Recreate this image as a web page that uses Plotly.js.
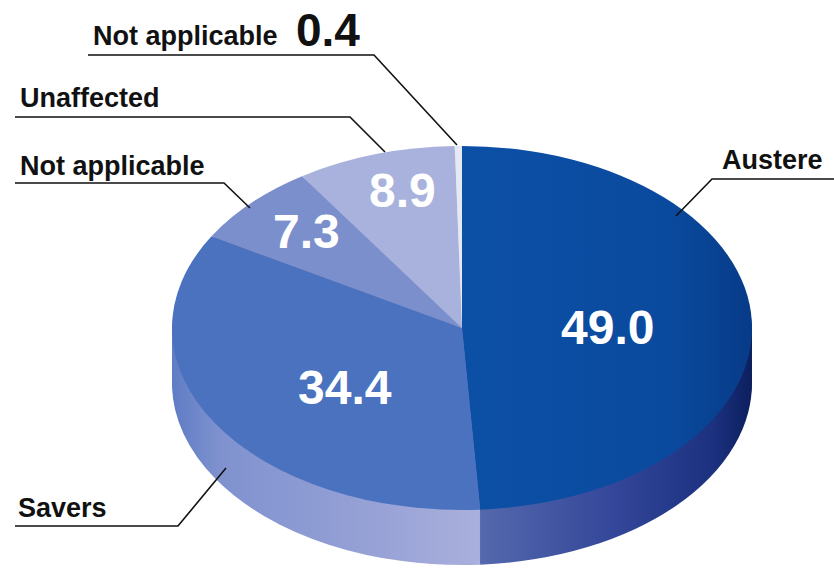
<!DOCTYPE html>
<html>
<head>
<meta charset="utf-8">
<script src="https://cdn.plot.ly/plotly-3.0.1.min.js"></script>
<style>
  html, body { margin: 0; padding: 0; background: #ffffff; overflow: hidden; }
  #chart { width: 834px; height: 576px; }
</style>
</head>
<body>
<div id="chart"></div>
<script>
// ---- data ----
const categories = ['Austere', 'Savers', 'Not applicable', 'Unaffected', 'Not applicable'];
const values = [49.0, 34.4, 7.3, 8.9, 0.4];
const topColors = ['#0b4ca0', '#4a72bf', '#7b8fcc', '#a8b2dc', '#e6e8f2'];
const wallColors = ['#2a4294', '#8e9ad0', '#6f80bf', '#9aa4d2', '#d0d4e6'];

// ---- geometry (pixels) ----
const W = 834, H = 576;
const R = 200;                 // pie radius before flattening
const pre = { cx: 417, cy: 250 };
const top3d = { cx: 462, cy: 328, a: 290, b: 182, depth: 55 };
const sx = top3d.a / R, sy = top3d.b / R;
const depthPre = top3d.depth / sy;
const px = x => x / W;
const py = y => 1 - y / H;

function pieTrace(colors, shift) {
  return {
    type: 'pie',
    values: values,
    labels: categories.map((c, i) => c + ' (' + values[i].toFixed(1) + ')'),
    sort: false,
    direction: 'clockwise',
    rotation: 0,
    textinfo: 'none',
    hoverinfo: 'none',
    showlegend: false,
    marker: { colors: colors, line: { width: 0 } },
    domain: {
      x: [px(pre.cx - R), px(pre.cx + R)],
      y: [py(pre.cy + R + shift), py(pre.cy - R + shift)]
    }
  };
}

const traces = [];
const steps = 14;
for (let k = steps; k >= 1; k--) {
  traces.push(pieTrace(wallColors, depthPre * k / steps));
}
traces.push(pieTrace(topColors, 0));

// value labels inside slices
const valuePos = [[607, 327], [345, 387], [306, 231], [402, 190]];
const annotations = [];
valuePos.forEach((p, i) => {
  annotations.push({
    xref: 'paper', yref: 'paper', x: px(p[0]), y: py(p[1]),
    xanchor: 'center', yanchor: 'middle', showarrow: false,
    text: values[i].toFixed(1),
    font: { family: 'Liberation Sans, Arial, sans-serif', size: 48, color: '#ffffff', weight: 'bold' }
  });
});

// category labels
const labelFont = { family: 'Liberation Sans, Arial, sans-serif', size: 27, color: '#111111', weight: 'bold' };
const labelPos = [[720, 160], [16, 508], [18, 166], [18, 98], [91, 36]];
labelPos.forEach((p, i) => {
  annotations.push({
    xref: 'paper', yref: 'paper', x: px(p[0]), y: py(p[1]),
    xanchor: 'left', yanchor: 'middle', showarrow: false,
    text: categories[i], font: labelFont
  });
});
// small slice value next to its label
annotations.push({
  xref: 'paper', yref: 'paper', x: px(294), y: py(30),
  xanchor: 'left', yanchor: 'middle', showarrow: false,
  text: values[4].toFixed(1),
  font: { family: 'Liberation Sans, Arial, sans-serif', size: 46, color: '#111111', weight: 'bold' }
});

// leader lines
const leaders = [
  [[834, 179], [712, 179], [676, 216]],
  [[15, 526], [178, 526], [226, 468]],
  [[15, 183], [224, 183], [250, 208]],
  [[15, 117], [350, 117], [385, 152]],
  [[88, 55], [374, 55], [457, 145]]
];
const shapes = leaders.map(pts => ({
  type: 'path', xref: 'paper', yref: 'paper', layer: 'above',
  path: pts.map((p, j) => (j ? 'L' : 'M') + px(p[0]).toFixed(5) + ',' + py(p[1]).toFixed(5)).join(' '),
  line: { color: '#111111', width: 1.6 }
}));

const layout = {
  width: W, height: H,
  margin: { l: 0, r: 0, t: 0, b: 0 },
  paper_bgcolor: '#ffffff',
  showlegend: false,
  annotations: annotations,
  shapes: shapes
};

// shading of the pie's side wall and top (in pre-flattening pixel x)
const gradients = {
  wallA: [[428, '#5569ad'], [520, '#34479a'], [590, '#1c3180'], [617, '#0c1f5e']],
  wallS: [[217, '#5f7cc4'], [250, '#7f92cf'], [360, '#98a2d6'], [430, '#aab0dc']],
  topA:  [[417, '#0c50a6'], [560, '#0a4a9e'], [617, '#073b88']]
};

function addGradients(svg) {
  const NS = 'http://www.w3.org/2000/svg';
  let defs = svg.querySelector('defs');
  if (!defs) { defs = document.createElementNS(NS, 'defs'); svg.insertBefore(defs, svg.firstChild); }
  Object.keys(gradients).forEach(id => {
    const g = document.createElementNS(NS, 'linearGradient');
    g.setAttribute('id', id);
    g.setAttribute('gradientUnits', 'userSpaceOnUse');
    const stops = gradients[id];
    g.setAttribute('x1', stops[0][0]); g.setAttribute('x2', stops[stops.length - 1][0]);
    g.setAttribute('y1', 0); g.setAttribute('y2', 0);
    const span = stops[stops.length - 1][0] - stops[0][0];
    stops.forEach(s => {
      const st = document.createElementNS(NS, 'stop');
      st.setAttribute('offset', ((s[0] - stops[0][0]) / span).toFixed(4));
      st.setAttribute('stop-color', s[1]);
      g.appendChild(st);
    });
    defs.appendChild(g);
  });
}

Plotly.newPlot('chart', traces, layout, { displayModeBar: false, staticPlot: true }).then(gd => {
  const pl = gd.querySelector('.pielayer');
  if (!pl) return;
  pl.setAttribute('transform',
    'translate(' + top3d.cx + ',' + top3d.cy + ') scale(' + sx + ',' + sy + ') translate(' + (-pre.cx) + ',' + (-pre.cy) + ')');
  const svg = gd.querySelector('.main-svg');
  addGradients(svg);
  const groups = pl.querySelectorAll('.trace');
  groups.forEach((tg, i) => {
    const paths = tg.querySelectorAll('.slice path.surface');
    if (i < steps) {
      if (paths[0]) paths[0].style.fill = 'url(#wallA)';
      if (paths[1]) paths[1].style.fill = 'url(#wallS)';
    } else {
      if (paths[0]) paths[0].style.fill = 'url(#topA)';
    }
  });
});
</script>
</body>
</html>
